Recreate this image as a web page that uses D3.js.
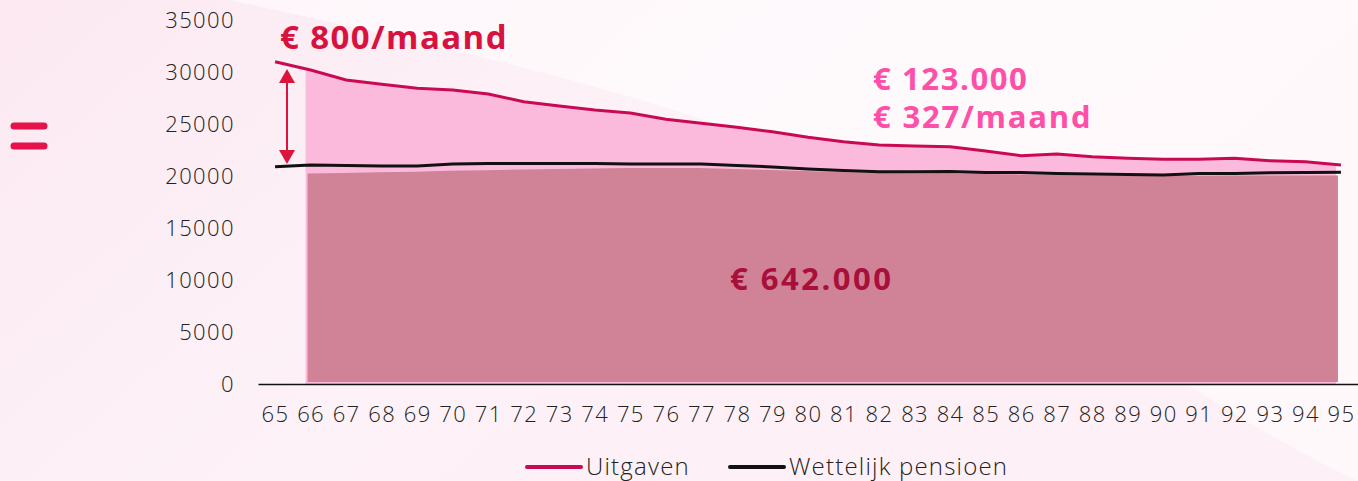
<!DOCTYPE html>
<html>
<head>
<meta charset="utf-8">
<script src="https://cdn.jsdelivr.net/npm/d3@7"></script>
<style>
  body { margin: 0; background: #fdf0f6; }
  svg { display: block; font-family: "Open Sans", sans-serif; }
  .tick text { font-family: "Open Sans", sans-serif; font-size: 22px; font-weight: 300; fill: #222; letter-spacing: 1.4px; }
  .big { font-weight: 700; }
  .legend text { font-size: 24px; font-weight: 300; fill: #222; letter-spacing: 1.2px; }
</style>
</head>
<body>
<svg width="1358" height="481"></svg>
<script>
// leeftijd
var ages = d3.range(65, 96);
// jaarlijkse uitgaven
var uitgaven = [30990, 30190, 29230, 28820, 28430, 28270, 27880, 27140, 26730, 26350,
                26060, 25450, 25070, 24680, 24260, 23720, 23300, 22980, 22880, 22820,
                22400, 21950, 22110, 21850, 21700, 21600, 21600, 21700, 21470, 21380, 21060];
// wettelijk pensioen
var pensioen = [20890, 21060, 21010, 20960, 20960, 21150, 21200, 21200, 21200, 21200,
                21150, 21150, 21150, 21010, 20870, 20670, 20530, 20410, 20410, 20430,
                20340, 20340, 20240, 20190, 20140, 20100, 20240, 20240, 20320, 20340, 20360];
// gedekt deel (donker vlak), vanaf 66
var gedektAges = d3.range(66, 96);
var gedekt = [20240, 20290, 20350, 20420, 20500, 20560, 20620, 20680, 20730, 20770,
              20770, 20760, 20680, 20580, 20480, 20380, 20290, 20260, 20240, 20190,
              20150, 20100, 20060, 20030, 20000, 20020, 20040, 20050, 20060, 20050];
var yTicks = [0, 5000, 10000, 15000, 20000, 25000, 30000, 35000];

var svg = d3.select("svg");

// achtergrond
var defs = svg.append("defs");
var bg = defs.append("linearGradient").attr("id", "bg")
    .attr("x1", "0").attr("y1", "0").attr("x2", "1").attr("y2", "0.4");
bg.append("stop").attr("offset", "0").attr("stop-color", "#fce9f2");
bg.append("stop").attr("offset", "0.5").attr("stop-color", "#fdf2f8");
bg.append("stop").attr("offset", "1").attr("stop-color", "#fdf0f7");
svg.append("rect").attr("width", 1358).attr("height", 481).attr("fill", "url(#bg)");
svg.append("path")
    .attr("d", "M230,0 C500,60 800,120 1000,260 C1150,360 1250,430 1358,481 L1358,0 Z")
    .attr("fill", "#fff")
    .attr("opacity", 0.55);

var x = d3.scalePoint().domain(ages).range([258, 1358]).padding(0.48);
var y = d3.scaleLinear().domain([0, 35000]).range([384, 20]);

// lichtroze vlak
var light = d3.area()
    .x(function (d, i) { return x(gedektAges[i]) - 5; })
    .y0(y(0))
    .y1(function (d) { return y(d); });
svg.append("path")
    .attr("d", light(uitgaven.slice(1)))
    .attr("fill", "#fbbadc");

// donker vlak
var dark = d3.area()
    .x(function (d, i) { return x(gedektAges[i]) - 3; })
    .y0(y(0) - 2)
    .y1(function (d) { return y(d); });
svg.append("path")
    .attr("d", dark(gedekt))
    .attr("fill", "#d08297");

// assen
var yAxis = svg.append("g")
    .attr("transform", "translate(258,0)")
    .call(d3.axisLeft(y).tickValues(yTicks).tickSize(0).tickPadding(23).tickFormat(d3.format("d")));
yAxis.select(".domain").remove();

var xAxis = svg.append("g")
    .attr("transform", "translate(0,384)")
    .call(d3.axisBottom(x).tickSize(0).tickSizeOuter(0).tickPadding(22));
xAxis.select(".domain").attr("stroke", "#111").attr("stroke-width", 1.5);

// lijnen
var line = d3.line()
    .x(function (d, i) { return x(ages[i]); })
    .y(function (d) { return y(d); });
svg.append("path").attr("d", line(pensioen))
    .attr("fill", "none").attr("stroke", "#111").attr("stroke-width", 3);
svg.append("path").attr("d", line(uitgaven))
    .attr("fill", "none").attr("stroke", "#c90a52").attr("stroke-width", 3);

// pijl
var ax = 287, aTop = 69, aBot = 164;
svg.append("line").attr("x1", ax).attr("x2", ax).attr("y1", aTop + 10).attr("y2", aBot - 10)
    .attr("stroke", "#dc143c").attr("stroke-width", 2);
svg.append("path").attr("d", "M" + ax + "," + aTop + " l-8,14 l16,0 Z").attr("fill", "#dc143c");
svg.append("path").attr("d", "M" + ax + "," + aBot + " l-8,-14 l16,0 Z").attr("fill", "#dc143c");

// is-gelijk teken
svg.append("line").attr("x1", 14).attr("x2", 44).attr("y1", 126).attr("y2", 126)
    .attr("stroke", "#e5124c").attr("stroke-width", 7).attr("stroke-linecap", "round");
svg.append("line").attr("x1", 14).attr("x2", 44).attr("y1", 146).attr("y2", 146)
    .attr("stroke", "#e5124c").attr("stroke-width", 7).attr("stroke-linecap", "round");

// teksten
svg.append("text").attr("class", "big").attr("x", 280).attr("y", 49)
    .attr("font-size", 33).attr("letter-spacing", 1.4).attr("fill", "#d7123f").text("€ 800/maand");
svg.append("text").attr("class", "big").attr("x", 873).attr("y", 90)
    .attr("font-size", 31).attr("letter-spacing", 1.6).attr("fill", "#ff4fa8").text("€ 123.000");
svg.append("text").attr("class", "big").attr("x", 873).attr("y", 128)
    .attr("font-size", 31).attr("letter-spacing", 1.8).attr("fill", "#ff4fa8").text("€ 327/maand");
svg.append("text").attr("class", "big").attr("x", 730).attr("y", 290)
    .attr("font-size", 31).attr("letter-spacing", 2.5).attr("fill", "#a80f3a").text("€ 642.000");

// legenda
var legend = svg.append("g").attr("class", "legend");
var items = [
    { name: "Uitgaven", color: "#c90a52", x: 527 },
    { name: "Wettelijk pensioen", color: "#111", x: 730 }
];
items.forEach(function (it) {
    legend.append("line").attr("x1", it.x).attr("x2", it.x + 54).attr("y1", 467).attr("y2", 467)
        .attr("stroke", it.color).attr("stroke-width", 4).attr("stroke-linecap", "round");
    legend.append("text").attr("x", it.x + 59).attr("y", 475).text(it.name);
});
</script>
</body>
</html>
